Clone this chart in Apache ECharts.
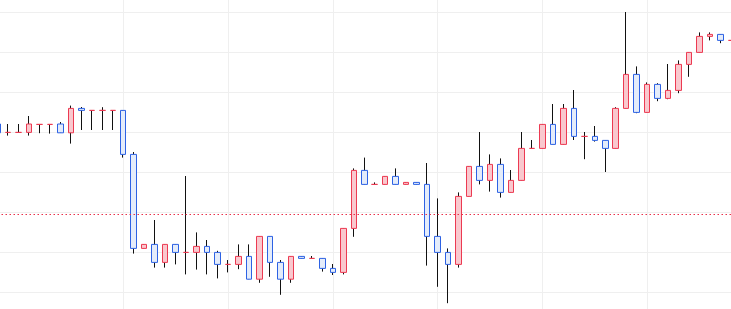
<!DOCTYPE html>
<html>
<head>
<meta charset="utf-8">
<style>html,body{margin:0;padding:0;background:#fff}#c{width:731px;height:309px}</style>
<script src="https://cdn.jsdelivr.net/npm/echarts@6/dist/echarts.min.js"></script>
</head>
<body>
<div id="c"></div>
<script>
const openV  = [52,49.9,49.9,49.9,51.9,51.9,52,49.8,55.9,55.4,55.4,55.4,55.4,44.4,20.9,21.9,17.4,21.9,19.9,19.9,21.4,19.9,16.9,16.9,18.9,13.2,23.9,17.4,13.2,18.9,18.4,18.4,15.9,14.9,25.9,40.4,36.9,36.9,38.9,36.9,37.4,36.9,23.9,19.9,16.9,33.9,41.4,37.9,41.9,34.9,37.9,45.9,45.9,51.9,46.9,55.9,48.9,48.9,47.9,45.9,55.9,64.4,54.9,61.9,58.4,60.4,66.9,69.9,73.9,74.4,72.9];
const closeV = [49.8,49.9,49.9,52,51.9,51.9,49.8,55.9,55.4,55.4,55.4,55.4,44.4,20.9,21.9,17.4,21.9,19.9,19.9,21.4,19.9,16.9,16.9,18.9,13.2,23.9,17.4,13.2,18.9,18.4,18.4,15.9,14.9,25.9,40.4,36.9,36.9,38.9,36.9,37.4,36.9,23.9,19.9,16.9,33.9,41.4,37.9,41.9,34.9,37.9,45.9,45.9,51.9,46.9,55.9,48.9,48.9,47.9,45.9,55.9,64.4,54.9,61.9,58.4,60.4,66.9,69.9,73.9,74.4,72.9,72.9];
const lowV   = [49.3,49.1,49.9,49.1,49.7,49.6,49.8,47.1,50.5,50.5,50.5,50.5,43.6,19.6,20.9,16.1,16.1,16.9,14.4,15.6,14.4,13.4,14.9,15.7,13.2,12.3,13.8,9.3,12.3,18.4,18.4,15.1,14.25,14.4,23.8,36.9,36.9,36.9,36.9,36.9,36.9,16.6,11.3,7.2,16.1,33.9,36.9,35.1,33.6,34.9,37.9,45.9,45.9,46.9,46.9,48,43.2,47.6,40,45.9,55.9,54.7,54.9,57.7,58.2,59.7,63.8,69.9,72.9,72.2,72.9];
const highV  = [52.5,52,52,54,51.9,51.9,52.5,56.6,56.25,55.4,56.2,55.4,55.4,45,21.9,28,21.9,21.9,39,24.9,23,20.3,18,21.9,21.9,23.9,23.9,18,18.9,18.9,19,18.4,17,25.9,40.9,43.6,37.4,38.9,40.9,37.4,37.4,42.25,33.4,20.9,34.9,41.4,50,44.4,43.4,40.5,50,48,51.9,57,57,60.5,50,51.5,47.9,56.2,80,66.4,62.4,62.2,67,67.9,69.9,74.9,74.9,74.4,72.9];
const refLevel = 29.5;
const categories = openV.map((_, i) => 'D' + (i + 1));

const RED = '#ec3a52', RED_FILL = '#f9c8ce';
const BLUE = '#2d62e4', BLUE_FILL = '#e4ecfa';

const wickData = openV.map((o, i) => [o, closeV[i], lowV[i], highV[i]]);
const bodyData = openV.map((o, i) => {
  const c = closeV[i];
  const up = c >= o;
  const col = up ? RED_FILL : BLUE_FILL, bc = up ? RED : BLUE;
  return {
    value: [o, c, Math.min(o, c), Math.max(o, c)],
    itemStyle: { color: col, color0: col, borderColor: bc, borderColor0: bc }
  };
});

const chart = echarts.init(document.getElementById('c'));
chart.setOption({
  animation: false,
  backgroundColor: '#fff',
  grid: { left: -2.5, top: -28, width: 733.5, height: 360, containLabel: false, outerBoundsMode: 'none' },
  xAxis: {
    type: 'category', data: categories, boundaryGap: false,
    axisLine: { show: false }, axisTick: { show: false }, axisLabel: { show: false },
    splitLine: { show: true, interval: (idx) => idx % 10 === 2 && idx > 2, lineStyle: { color: '#efefef', width: 1 } }
  },
  yAxis: {
    type: 'value', min: 0, max: 90, interval: 10,
    axisLine: { show: false }, axisTick: { show: false }, axisLabel: { show: false },
    splitLine: { show: true, lineStyle: { color: '#efefef', width: 1 } }
  },
  series: [
    {
      type: 'candlestick', data: wickData, barWidth: 1, z: 2,
      itemStyle: { color: '#111', color0: '#111', borderColor: '#111', borderColor0: '#111', borderWidth: 1 }
    },
    {
      type: 'candlestick', data: bodyData, barWidth: 6, z: 3,
      itemStyle: { borderWidth: 1 },
      markLine: {
        silent: true, symbol: ['none', 'none'], label: { show: false },
        lineStyle: { color: '#e8304a', type: [1.5, 2.5], width: 1, opacity: 1 },
        emphasis: { disabled: true },
        data: [{ yAxis: refLevel }]
      }
    }
  ]
});
</script>
</body>
</html>
